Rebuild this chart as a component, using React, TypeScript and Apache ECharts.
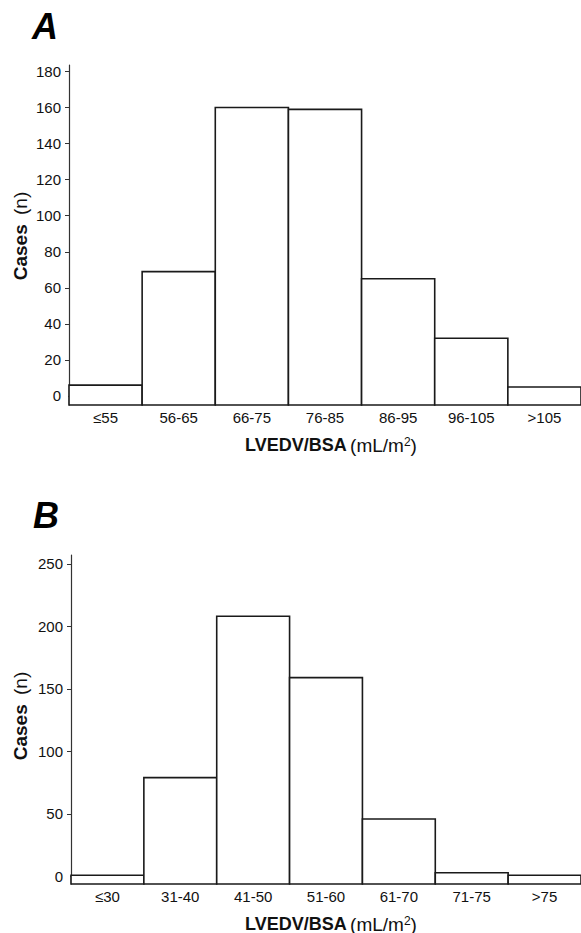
import React, { useEffect, useRef } from "react";
import * as echarts from "echarts";

// Panel A
const catsA = ["≤55", "56-65", "66-75", "76-85", "86-95", "96-105", ">105"];
const valsA = [6, 69, 160, 159, 65, 32, 5];
const ticksA = [20, 40, 60, 80, 100, 120, 140, 160, 180];
const labelsA = [0, 20, 40, 60, 80, 100, 120, 140, 160, 180];

// Panel B
const catsB = ["≤30", "31-40", "41-50", "51-60", "61-70", "71-75", ">75"];
const valsB = [1, 79, 208, 159, 46, 3, 1];
const ticksB = [50, 100, 150, 200, 250];
const labelsB = [0, 50, 100, 150, 200, 250];

const MIN_A = -5;
const MAX_A = 183.6;
const MIN_B = -6;
const MAX_B = 257;

const FONT = '"Liberation Sans", Arial, Helvetica, sans-serif';

function makeRender(minV: number) {
  return (params: any, api: any) => {
    const idx = api.value(0);
    const v = api.value(1);
    const top = api.coord([idx, v]);
    const bottom = api.coord([idx, minV]);
    const w = api.size([1, 0])[0];
    return {
      type: "rect",
      shape: { x: top[0] - w / 2, y: top[1], width: w, height: bottom[1] - top[1] },
      style: { fill: "#ffffff", stroke: "#1a1a1a", lineWidth: 1.6 },
    };
  };
}

export default function App() {
  const ref = useRef<HTMLDivElement>(null);
  useEffect(() => {
    if (!ref.current) return;
    const chart = echarts.init(ref.current, null, { renderer: "svg" });

    const xAxisCommon = {
      type: "category" as const,
      boundaryGap: true,
      axisLine: { lineStyle: { color: "#222", width: 1.4 } },
      axisTick: { show: false },
      axisLabel: { color: "#111", fontSize: 15, fontFamily: FONT, margin: 5, interval: 0 },
      splitLine: { show: false },
    };
    const yAxisCommon = {
      type: "value" as const,
      axisLine: { show: true, lineStyle: { color: "#333", width: 1.2 } },
      splitLine: { show: false },
    };

    const nameRich = {
      b: { fontWeight: "bold", fontSize: 18, fontFamily: FONT, fill: "#111" },
      n: { fontSize: 19, fontFamily: FONT, fill: "#111" },
      sup: { fontSize: 12, fontFamily: FONT, fill: "#111", verticalAlign: "top" },
    };
    const yRich = {
      b: { fontWeight: "bold", fontSize: 19, fontFamily: FONT, fill: "#111" },
      n: { fontSize: 19, fontFamily: FONT, fill: "#111", padding: [0, 0, 0, 6] },
    };

    const xName = "{b|LVEDV/BSA} {n|(mL/m}{sup|2}{n|)}";
    const yName = "{b|Cases} {n|(n)}";

    chart.setOption({
      animation: false,
      backgroundColor: "#ffffff",
      grid: [
        { left: 69, top: 65, width: 519, height: 340 },
        { left: 71, top: 555, width: 517, height: 329 },
      ],
      xAxis: [
        { ...xAxisCommon, gridIndex: 0, data: catsA },
        { ...xAxisCommon, gridIndex: 1, data: catsB },
      ],
      yAxis: [
        {
          ...yAxisCommon,
          gridIndex: 0,
          min: MIN_A,
          max: MAX_A,
          axisTick: { show: true, length: 4, lineStyle: { color: "#333" }, customValues: ticksA },
          axisLabel: { color: "#111", fontSize: 15, fontFamily: FONT, margin: 8, customValues: labelsA },
        },
        {
          ...yAxisCommon,
          gridIndex: 1,
          min: MIN_B,
          max: MAX_B,
          axisTick: { show: true, length: 4, lineStyle: { color: "#333" }, customValues: ticksB },
          axisLabel: { color: "#111", fontSize: 15, fontFamily: FONT, margin: 8, customValues: labelsB },
        },
      ],
      series: [
        {
          type: "custom",
          xAxisIndex: 0,
          yAxisIndex: 0,
          renderItem: makeRender(MIN_A),
          data: valsA.map((v, i) => [i, v]),
          clip: false,
        },
        {
          type: "custom",
          xAxisIndex: 1,
          yAxisIndex: 1,
          renderItem: makeRender(MIN_B),
          data: valsB.map((v, i) => [i, v]),
          clip: false,
        },
      ],
      graphic: [
        {
          type: "text",
          x: 45,
          y: 26,
          style: {
            text: "A",
            fontSize: 36,
            fontWeight: "bold",
            fontStyle: "italic",
            fontFamily: FONT,
            fill: "#000",
            align: "center",
            verticalAlign: "middle",
          },
        },
        {
          type: "text",
          x: 46,
          y: 515,
          style: {
            text: "B",
            fontSize: 36,
            fontWeight: "bold",
            fontStyle: "italic",
            fontFamily: FONT,
            fill: "#000",
            align: "center",
            verticalAlign: "middle",
          },
        },
        {
          type: "text",
          x: 331,
          y: 445,
          style: { text: xName, rich: nameRich, align: "center", verticalAlign: "middle" },
        },
        {
          type: "text",
          x: 331,
          y: 924,
          style: { text: xName, rich: nameRich, align: "center", verticalAlign: "middle" },
        },
        {
          type: "text",
          x: 20,
          y: 236,
          rotation: Math.PI / 2,
          style: { text: yName, rich: yRich, align: "center", verticalAlign: "middle" },
        },
        {
          type: "text",
          x: 20,
          y: 716,
          rotation: Math.PI / 2,
          style: { text: yName, rich: yRich, align: "center", verticalAlign: "middle" },
        },
      ],
    });
    return () => chart.dispose();
  }, []);
  return (
    <div
      ref={ref}
      style={{ position: "absolute", left: 0, top: 0, width: 581, height: 933, background: "#fff" }}
    />
  );
}
